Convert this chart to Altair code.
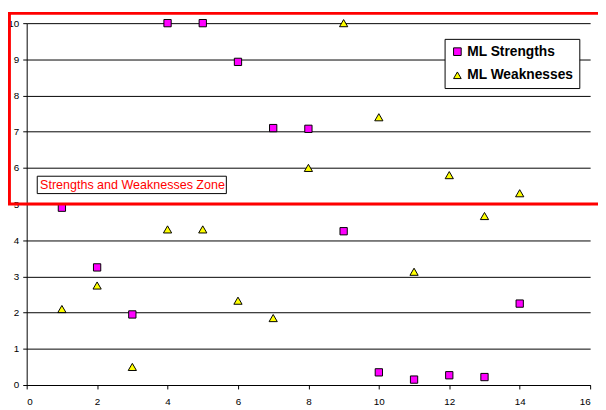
import altair as alt
import pandas as pd

# Data
x_vals = [1, 2, 3, 4, 5, 6, 7, 8, 9, 10, 11, 12, 13, 14]
strengths = [4.9, 3.25, 1.95, 10, 10, 8.93, 7.1, 7.08, 4.25, 0.35, 0.15, 0.27, 0.22, 2.25]
weaknesses = [2.1, 2.75, 0.5, 4.3, 4.3, 2.33, 1.85, 6.0, 10, 7.4, 3.13, 5.8, 4.67, 5.3]
series_names = ["ML Strengths", "ML Weaknesses"]
series_colors = ["#FF00FF", "#FFFF00"]
series_shapes = ["square", "triangle-up"]

x_ticks = [0, 2, 4, 6, 8, 10, 12, 14, 16]
y_ticks = [0, 1, 2, 3, 4, 5, 6, 7, 8, 9, 10]

# Zone annotation (data coordinates)
zone_x = [-0.49, 16.3]
zone_y = [5, 10.27]
zone_label = "Strengths and Weaknesses Zone"
label_box_x = [0.30, 5.67]
label_box_y = [5.29, 5.77]
label_pos = [0.38, 5.53]

rows = []
for xv, s in zip(x_vals, strengths):
    rows.append({"x": xv, "y": s, "series": series_names[0]})
for xv, w in zip(x_vals, weaknesses):
    rows.append({"x": xv, "y": w, "series": series_names[1]})
df = pd.DataFrame(rows)

FONT = "Liberation Sans"

xscale = alt.Scale(domain=[0, 16], nice=False, zero=False)
yscale = alt.Scale(domain=[0, 10], nice=False, zero=False)
xaxis = alt.Axis(values=x_ticks, title=None, grid=False, tickSize=4, labelPadding=8, format="d")
yaxis = alt.Axis(values=y_ticks, title=None, grid=True, tickSize=4, labelPadding=4, format="d",
                 labelOverlap=False, tickCount=11)

legend = alt.Legend(
    title=None, orient="none", legendX=425, legendY=16,
    strokeColor="black", fillColor="white", padding=6,
    labelFont=FONT, labelFontSize=14, labelFontWeight="bold", labelColor="black",
    symbolStrokeColor="black", symbolStrokeWidth=1, symbolSize=60,
    rowPadding=10, labelOffset=3, cornerRadius=0,
)

points = alt.Chart(df).mark_point(filled=True, stroke="black", strokeWidth=1, opacity=1).encode(
    x=alt.X("x:Q", scale=xscale, axis=xaxis),
    y=alt.Y("y:Q", scale=yscale, axis=yaxis),
    color=alt.Color("series:N", scale=alt.Scale(domain=series_names, range=series_colors), legend=legend),
    shape=alt.Shape("series:N", scale=alt.Scale(domain=series_names, range=series_shapes), legend=legend),
    size=alt.condition(alt.datum.series == series_names[0], alt.value(55), alt.value(70)),
)

zone_df = pd.DataFrame([{"x": zone_x[0], "x2": zone_x[1], "y": zone_y[0], "y2": zone_y[1]}])
zone = alt.Chart(zone_df).mark_rect(fill=None, fillOpacity=0, stroke="#FF0000", strokeWidth=3, clip=False).encode(
    x=alt.X("x:Q", scale=xscale, axis=xaxis), x2="x2:Q",
    y=alt.Y("y:Q", scale=yscale, axis=yaxis), y2="y2:Q",
)

box_df = pd.DataFrame([{"x": label_box_x[0], "x2": label_box_x[1], "y": label_box_y[0], "y2": label_box_y[1]}])
label_box = alt.Chart(box_df).mark_rect(fill="white", stroke="black", strokeWidth=1).encode(
    x=alt.X("x:Q", scale=xscale, axis=xaxis), x2="x2:Q",
    y=alt.Y("y:Q", scale=yscale, axis=yaxis), y2="y2:Q",
)

text_df = pd.DataFrame([{"x": label_pos[0], "y": label_pos[1], "t": zone_label}])
label_text = alt.Chart(text_df).mark_text(align="left", baseline="middle", font=FONT, fontSize=12.75,
                                          color="#FF0000").encode(
    x=alt.X("x:Q", scale=xscale, axis=xaxis), y=alt.Y("y:Q", scale=yscale, axis=yaxis), text="t:N",
)

chart = alt.layer(points, zone, label_box, label_text).properties(
    width=573, height=368,
    autosize=alt.AutoSizeParams(type="none"),
    padding={"left": 19, "top": 12, "right": 8, "bottom": 22},
).configure_view(stroke=None).configure_axis(
    labelFont=FONT, labelFontSize=10, labelColor="black",
    domainColor="black", tickColor="black", gridColor="black", gridWidth=1,
    domainWidth=1,
)

chart.save("out.html", embed_options={"renderer": "svg", "actions": False})
